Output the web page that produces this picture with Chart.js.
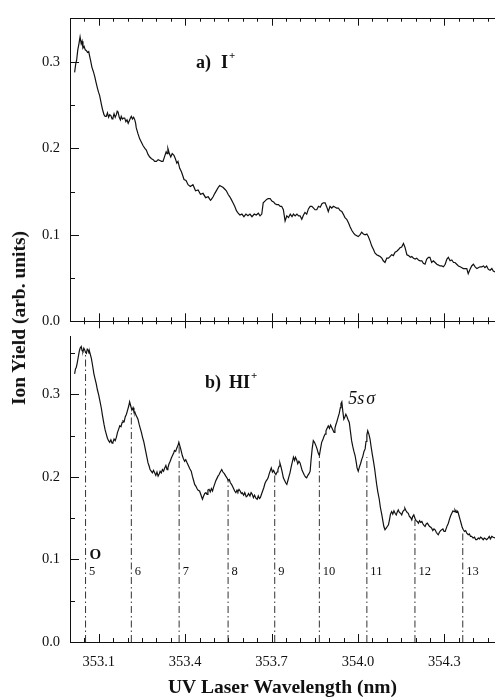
<!DOCTYPE html>
<html>
<head>
<meta charset="utf-8">
<script src="https://cdn.jsdelivr.net/npm/chart.js@4.4.1/dist/chart.umd.min.js"></script>
<style>
  html, body { margin: 0; padding: 0; background: #fff; }
  #wrap { position: relative; width: 495px; height: 700px; overflow: hidden; background: #fff; }
  #top-chart { position: absolute; left: 0; top: 0; }
  #bot-chart { position: absolute; left: 0; top: 318px; }
  #y-title {
    position: absolute; left: 19px; top: 318px;
    transform: translate(-50%, -50%) rotate(-90deg);
    white-space: nowrap; color: #111;
    font: bold 19.5px "Liberation Serif", "Times New Roman", serif;
  }
</style>
</head>
<body>
<div id="wrap">
  <canvas id="top-chart" width="495" height="340"></canvas>
  <canvas id="bot-chart" width="495" height="382"></canvas>
  <div id="y-title">Ion Yield (arb. units)</div>
</div>
<script>
// wavelength axis (nm)
const xMin = 353.0;
const xMax = 354.476;
const xTicks = [353.1, 353.4, 353.7, 354.0, 354.3];
const yTicks = [0, 0.1, 0.2, 0.3];

// a) I+ yield
const topWl = [
  353.016,353.020,353.023,353.027,353.031,353.035,353.039,353.042,353.045,353.049,
  353.053,353.057,353.061,353.065,353.068,353.072,353.076,353.081,353.086,353.090,
  353.095,353.099,353.103,353.106,353.109,353.113,353.118,353.122,353.126,353.130,
  353.134,353.138,353.142,353.146,353.149,353.153,353.157,353.161,353.164,353.167,
  353.171,353.175,353.178,353.182,353.186,353.190,353.194,353.198,353.202,353.206,
  353.210,353.213,353.217,353.221,353.225,353.228,353.230,353.236,353.242,353.248,
  353.254,353.260,353.265,353.271,353.277,353.283,353.289,353.294,353.300,353.306,
  353.312,353.318,353.323,353.329,353.334,353.337,353.340,353.345,353.350,353.355,
  353.361,353.366,353.371,353.375,353.381,353.387,353.392,353.396,353.403,353.410,
  353.418,353.427,353.436,353.445,353.453,353.462,353.471,353.480,353.488,353.491,
  353.497,353.503,353.510,353.515,353.520,353.526,353.531,353.537,353.543,353.549,
  353.555,353.560,353.566,353.572,353.578,353.584,353.590,353.597,353.604,353.611,
  353.618,353.625,353.632,353.640,353.647,353.654,353.660,353.666,353.671,353.677,
  353.683,353.688,353.695,353.701,353.707,353.712,353.718,353.724,353.730,353.735,
  353.741,353.747,353.753,353.759,353.765,353.771,353.776,353.782,353.788,353.794,
  353.799,353.805,353.811,353.816,353.822,353.828,353.834,353.840,353.846,353.851,
  353.857,353.863,353.869,353.875,353.880,353.886,353.892,353.897,353.903,353.909,
  353.915,353.921,353.926,353.932,353.938,353.944,353.949,353.955,353.961,353.967,
  353.973,353.979,353.985,353.990,353.996,354.001,354.007,354.013,354.019,354.025,
  354.031,354.036,354.042,354.048,354.054,354.059,354.065,354.071,354.077,354.083,
  354.088,354.094,354.100,354.106,354.112,354.117,354.123,354.129,354.135,354.141,
  354.146,354.152,354.158,354.163,354.170,354.176,354.182,354.187,354.193,354.199,
  354.204,354.210,354.216,354.222,354.227,354.233,354.239,354.245,354.250,354.256,
  354.262,354.268,354.274,354.280,354.285,354.291,354.297,354.303,354.309,354.314,
  354.320,354.326,354.332,354.337,354.343,354.349,354.355,354.361,354.366,354.372,
  354.378,354.383,354.389,354.395,354.401,354.407,354.413,354.418,354.424,354.430,
  354.436,354.441,354.447,354.453,354.459,354.465,354.470,354.476
];
const topYield = [
  0.288,0.298,0.302,0.314,0.321,0.329,0.321,0.324,0.316,0.318,
  0.314,0.313,0.311,0.312,0.307,0.301,0.294,0.289,0.283,0.277,
  0.270,0.265,0.261,0.256,0.251,0.245,0.239,0.237,0.237,0.241,
  0.236,0.239,0.238,0.234,0.235,0.240,0.236,0.239,0.243,0.242,
  0.236,0.233,0.237,0.234,0.235,0.235,0.231,0.233,0.229,0.232,
  0.235,0.237,0.234,0.236,0.233,0.229,0.224,0.217,0.211,0.207,
  0.203,0.200,0.198,0.193,0.190,0.188,0.187,0.185,0.185,0.187,
  0.186,0.185,0.185,0.191,0.196,0.194,0.200,0.194,0.190,0.194,
  0.192,0.188,0.183,0.185,0.177,0.173,0.168,0.164,0.163,0.158,
  0.156,0.158,0.151,0.152,0.147,0.148,0.143,0.144,0.140,0.141,
  0.144,0.148,0.152,0.155,0.157,0.156,0.155,0.153,0.151,0.147,
  0.144,0.141,0.137,0.133,0.128,0.125,0.123,0.124,0.121,0.124,
  0.122,0.124,0.121,0.124,0.123,0.125,0.122,0.124,0.137,0.139,
  0.141,0.142,0.142,0.139,0.138,0.136,0.135,0.135,0.133,0.133,
  0.129,0.116,0.122,0.120,0.124,0.121,0.124,0.122,0.124,0.122,
  0.122,0.118,0.123,0.126,0.124,0.130,0.133,0.133,0.131,0.129,
  0.129,0.133,0.132,0.136,0.137,0.137,0.132,0.127,0.133,0.131,
  0.133,0.132,0.131,0.131,0.128,0.127,0.124,0.120,0.118,0.114,
  0.109,0.105,0.102,0.100,0.099,0.098,0.100,0.103,0.101,0.100,
  0.101,0.098,0.093,0.087,0.083,0.079,0.077,0.076,0.075,0.073,
  0.070,0.068,0.073,0.073,0.075,0.077,0.076,0.080,0.081,0.083,
  0.085,0.086,0.090,0.086,0.077,0.076,0.074,0.075,0.073,0.072,
  0.073,0.071,0.070,0.070,0.067,0.066,0.072,0.074,0.074,0.068,
  0.070,0.068,0.066,0.065,0.064,0.064,0.063,0.066,0.072,0.074,
  0.070,0.071,0.068,0.068,0.066,0.064,0.063,0.062,0.061,0.061,
  0.061,0.055,0.060,0.064,0.066,0.063,0.061,0.062,0.063,0.063,
  0.064,0.062,0.064,0.060,0.059,0.061,0.058,0.057
];

// b) HI+ yield
const hiWl = [
  353.016,353.019,353.022,353.025,353.029,353.032,353.035,353.039,353.042,353.045,
  353.048,353.051,353.054,353.057,353.060,353.063,353.066,353.068,353.071,353.074,
  353.078,353.083,353.087,353.091,353.095,353.100,353.104,353.109,353.113,353.118,
  353.122,353.126,353.130,353.134,353.138,353.142,353.146,353.149,353.153,353.157,
  353.161,353.165,353.169,353.173,353.177,353.181,353.184,353.188,353.192,353.196,
  353.200,353.204,353.207,353.211,353.215,353.219,353.222,353.225,353.229,353.232,
  353.236,353.240,353.244,353.248,353.252,353.256,353.259,353.263,353.267,353.271,
  353.275,353.278,353.282,353.286,353.290,353.294,353.298,353.302,353.306,353.310,
  353.313,353.317,353.321,353.325,353.329,353.333,353.337,353.340,353.344,353.348,
  353.352,353.356,353.360,353.363,353.367,353.371,353.375,353.378,353.382,353.386,
  353.390,353.394,353.398,353.402,353.407,353.411,353.416,353.421,353.425,353.429,
  353.433,353.437,353.441,353.445,353.450,353.454,353.457,353.460,353.464,353.468,
  353.472,353.476,353.479,353.483,353.487,353.491,353.495,353.499,353.503,353.506,
  353.510,353.514,353.518,353.522,353.527,353.531,353.536,353.541,353.545,353.549,
  353.553,353.557,353.561,353.564,353.568,353.572,353.576,353.580,353.583,353.587,
  353.591,353.595,353.598,353.603,353.607,353.612,353.616,353.620,353.625,353.629,
  353.633,353.637,353.641,353.646,353.650,353.654,353.658,353.661,353.665,353.669,
  353.673,353.677,353.681,353.685,353.688,353.692,353.696,353.699,353.703,353.707,
  353.711,353.715,353.719,353.722,353.726,353.729,353.733,353.737,353.741,353.745,
  353.749,353.753,353.757,353.760,353.764,353.768,353.772,353.776,353.780,353.783,
  353.787,353.791,353.795,353.799,353.803,353.806,353.810,353.814,353.818,353.822,
  353.826,353.830,353.834,353.837,353.841,353.845,353.849,353.854,353.858,353.862,
  353.866,353.870,353.874,353.878,353.882,353.886,353.889,353.893,353.897,353.901,
  353.905,353.909,353.913,353.917,353.920,353.923,353.926,353.930,353.935,353.939,
  353.941,353.944,353.947,353.951,353.955,353.958,353.961,353.965,353.970,353.974,
  353.978,353.982,353.986,353.990,353.994,353.997,354.001,354.005,354.009,354.013,
  354.017,354.021,354.025,354.028,354.031,354.034,354.038,354.042,354.046,354.050,
  354.054,354.058,354.062,354.065,354.069,354.074,354.078,354.083,354.087,354.090,
  354.094,354.098,354.102,354.106,354.110,354.113,354.117,354.121,354.125,354.129,
  354.133,354.137,354.140,354.144,354.148,354.152,354.156,354.160,354.163,354.167,
  354.171,354.175,354.179,354.183,354.187,354.190,354.194,354.198,354.202,354.206,
  354.210,354.214,354.218,354.222,354.226,354.230,354.233,354.237,354.241,354.245,
  354.249,354.253,354.256,354.260,354.264,354.268,354.272,354.276,354.279,354.283,
  354.287,354.291,354.295,354.299,354.303,354.307,354.310,354.314,354.318,354.322,
  354.326,354.330,354.334,354.337,354.341,354.344,354.347,354.351,354.355,354.359,
  354.362,354.366,354.370,354.374,354.378,354.383,354.387,354.391,354.395,354.400,
  354.405,354.409,354.413,354.418,354.422,354.426,354.430,354.435,354.439,354.443,
  354.447,354.452,354.456,354.460,354.465,354.470,354.476
];
const hiYield = [
  0.325,0.331,0.333,0.338,0.346,0.352,0.356,0.358,0.353,0.352,
  0.356,0.354,0.351,0.350,0.355,0.354,0.350,0.352,0.348,0.344,
  0.336,0.325,0.319,0.313,0.306,0.299,0.292,0.283,0.274,0.264,
  0.257,0.252,0.247,0.244,0.242,0.245,0.241,0.242,0.246,0.244,
  0.248,0.254,0.258,0.262,0.261,0.266,0.268,0.267,0.273,0.276,
  0.281,0.286,0.291,0.286,0.281,0.284,0.279,0.279,0.275,0.273,
  0.270,0.264,0.259,0.254,0.248,0.243,0.238,0.231,0.224,0.217,
  0.213,0.209,0.207,0.205,0.208,0.205,0.202,0.206,0.201,0.204,
  0.207,0.205,0.209,0.207,0.211,0.214,0.209,0.211,0.216,0.219,
  0.223,0.226,0.229,0.232,0.231,0.235,0.238,0.242,0.237,0.232,
  0.226,0.222,0.219,0.221,0.217,0.214,0.210,0.207,0.201,0.196,
  0.191,0.189,0.186,0.184,0.183,0.179,0.176,0.173,0.177,0.180,
  0.181,0.179,0.184,0.185,0.182,0.186,0.183,0.188,0.192,0.195,
  0.198,0.201,0.203,0.206,0.209,0.206,0.204,0.201,0.199,0.196,
  0.197,0.193,0.191,0.189,0.186,0.183,0.181,0.184,0.182,0.185,
  0.183,0.180,0.181,0.178,0.181,0.176,0.177,0.180,0.177,0.181,
  0.179,0.175,0.178,0.174,0.173,0.177,0.174,0.175,0.179,0.183,
  0.187,0.192,0.195,0.197,0.199,0.204,0.208,0.211,0.206,0.208,
  0.205,0.203,0.206,0.209,0.213,0.217,0.212,0.206,0.199,0.196,
  0.193,0.191,0.196,0.200,0.205,0.212,0.218,0.224,0.220,0.224,
  0.221,0.216,0.219,0.217,0.212,0.208,0.205,0.202,0.200,0.199,
  0.202,0.204,0.207,0.220,0.234,0.244,0.242,0.238,0.234,0.229,
  0.226,0.234,0.242,0.245,0.249,0.252,0.256,0.259,0.262,0.259,
  0.263,0.260,0.257,0.254,0.259,0.263,0.266,0.271,0.277,0.284,
  0.289,0.291,0.281,0.270,0.273,0.276,0.274,0.270,0.266,0.255,
  0.244,0.237,0.231,0.226,0.218,0.211,0.207,0.212,0.216,0.221,
  0.225,0.231,0.234,0.243,0.251,0.256,0.252,0.246,0.236,0.227,
  0.219,0.210,0.199,0.191,0.182,0.173,0.163,0.154,0.146,0.140,
  0.136,0.138,0.140,0.142,0.149,0.155,0.158,0.155,0.159,0.156,
  0.154,0.158,0.160,0.157,0.156,0.154,0.158,0.160,0.162,0.159,
  0.157,0.156,0.152,0.151,0.148,0.152,0.154,0.150,0.147,0.146,
  0.144,0.147,0.145,0.146,0.143,0.141,0.140,0.143,0.144,0.142,
  0.140,0.139,0.138,0.135,0.137,0.136,0.133,0.131,0.130,0.133,
  0.135,0.136,0.137,0.134,0.134,0.138,0.141,0.144,0.149,0.153,
  0.156,0.159,0.158,0.160,0.157,0.159,0.158,0.153,0.148,0.143,
  0.139,0.136,0.134,0.135,0.132,0.130,0.131,0.128,0.128,0.126,
  0.127,0.124,0.124,0.126,0.125,0.127,0.126,0.124,0.126,0.125,
  0.124,0.126,0.128,0.125,0.128,0.127,0.126
];

// vibrational progression markers in panel b
const progWl = [353.054, 353.213, 353.379, 353.549, 353.711, 353.866, 354.031, 354.198, 354.364];
const progTop = [0.348, 0.280, 0.240, 0.196, 0.202, 0.226, 0.224, 0.148, 0.132];
const progLabel = ['5', '6', '7', '8', '9', '10', '11', '12', '13'];

const ink = '#111';
const serif = '"Liberation Serif", "Times New Roman", serif';
const bold18 = 'bold 18px ' + serif;
const boldSup = 'bold 11px ' + serif;

function pairs(xs, ys) { return xs.map((x, i) => ({ x, y: ys[i] })); }

// inward minor/major ticks, drawn at the library's own scale positions
function axisMarks(edges) {
    return {
        id: 'axisMarks',
        afterDatasetsDraw(chart) {
            const { ctx, chartArea: a, scales: { x, y } } = chart;
            ctx.save();
            ctx.strokeStyle = ink;
            ctx.lineWidth = 1;
            ctx.beginPath();
            for (let k = 1; k < 30; k++) {
                const px = Math.round(x.getPixelForValue(353 + k * 0.05)) + 0.5;
                if (px > a.right) break;
                const major = (k - 2) % 6 === 0;
                const len = major ? 8 : 4;
                if (edges.top) { ctx.moveTo(px, a.top); ctx.lineTo(px, a.top + len - 1); }
                if (edges.bottom === 'cross') { ctx.moveTo(px, a.bottom - len); ctx.lineTo(px, a.bottom + len - 1); }
                if (edges.bottom === 'in') { ctx.moveTo(px, a.bottom); ctx.lineTo(px, a.bottom - len); }
            }
            for (let j = 1; j * 0.05 < y.max - 0.01; j++) {
                const py = Math.round(y.getPixelForValue(j * 0.05)) + 0.5;
                const len = j % 2 === 0 ? 9 : 5;
                ctx.moveTo(a.left, py); ctx.lineTo(a.left + len, py);
            }
            ctx.stroke();
            ctx.restore();
        }
    };
}

// text placed at data coordinates (dx is a pixel nudge)
function panelText(items) {
    return {
        id: 'panelText',
        afterDatasetsDraw(chart) {
            const { ctx, scales: { x, y } } = chart;
            ctx.save();
            ctx.fillStyle = ink;
            items.forEach(it => {
                let cx = x.getPixelForValue(it.x) + (it.dx || 0);
                const cy = y.getPixelForValue(it.y);
                ctx.textBaseline = it.baseline || 'alphabetic';
                it.parts.forEach(p => {
                    ctx.font = p.font;
                    cx += p.gap || 0;
                    ctx.fillText(p.t, cx, cy + (p.dy || 0));
                    cx += ctx.measureText(p.t).width;
                });
            });
            ctx.restore();
        }
    };
}

function baseScales(yMax, xHeight) {
    const hidden = { display: false };
    const noGrid = { drawOnChartArea: false, drawTicks: false };
    return {
        x: {
            type: 'linear', min: xMin, max: xMax,
            ticks: hidden, grid: noGrid,
            border: { color: ink, width: 1 },
            afterFit: s => { s.height = xHeight; }
        },
        y: {
            min: 0, max: yMax,
            afterBuildTicks: s => { s.ticks = yTicks.map(value => ({ value })); },
            ticks: { color: ink, padding: 10, font: { family: serif, size: 14.5 }, callback: v => v.toFixed(1) },
            grid: noGrid,
            border: { color: ink, width: 1 },
            afterFit: s => { s.width = 70; }
        }
    };
}

const commonOpts = {
    responsive: false,
    animation: false,
    events: [],
    plugins: { legend: { display: false }, tooltip: { enabled: false } }
};

// panel a
const topScales = baseScales(0.35, 12);
topScales.xTop = {
    type: 'linear', position: 'top', min: xMin, max: xMax,
    ticks: { display: false }, grid: { drawOnChartArea: false, drawTicks: false },
    border: { color: ink, width: 1 },
    afterFit: s => { s.height = 13; }
};
new Chart(document.getElementById('top-chart'), {
    type: 'line',
    data: {
        datasets: [{
            data: pairs(topWl, topYield),
            borderColor: ink, borderWidth: 1.2, pointRadius: 0, tension: 0
        }]
    },
    options: { ...commonOpts, layout: { padding: 0 }, scales: topScales },
    plugins: [
        axisMarks({ top: true, bottom: 'cross' }),
        panelText([{
            x: 353.438, y: 0.2934,
            parts: [{ t: 'a)', font: bold18 }, { t: 'I', font: bold18, gap: 10 }, { t: '+', font: boldSup, dy: -9, gap: 1 }]
        }])
    ]
});

// panel b
const botScales = baseScales(0.37, 58);
Object.assign(botScales.x, {
    afterBuildTicks: s => { s.ticks = xTicks.map(value => ({ value })); },
    ticks: { color: ink, padding: 11, font: { family: serif, size: 14.5 }, callback: v => v.toFixed(1), maxRotation: 0 },
    title: {
        display: true, text: 'UV Laser Wavelength (nm)', color: ink,
        font: { family: serif, size: 19.5, weight: 'bold' }, padding: { top: 0, bottom: 0 }
    }
});

const progSets = progWl.map((wl, i) => ({
    data: [{ x: wl, y: 0 }, { x: wl, y: progTop[i] }],
    borderColor: '#333', borderWidth: 1, borderDash: [7, 3, 1.5, 3], pointRadius: 0
}));

const botText = [
    { x: 353.469, y: 0.308, parts: [{ t: 'b)', font: bold18 }, { t: 'HI', font: bold18, gap: 8 }, { t: '+', font: boldSup, dy: -9, gap: 1 }] },
    { x: 353.966, y: 0.289, parts: [{ t: '5s', font: 'italic 18px ' + serif }, { t: 'σ', font: 'italic 18px ' + serif, gap: 2 }] },
    { x: progWl[0], dx: 4, y: 0.105, baseline: 'middle', parts: [{ t: 'O', font: 'bold 15px ' + serif }] }
].concat(progWl.map((wl, i) => ({
    x: wl, dx: 3.5, y: 0.085, baseline: 'middle',
    parts: [{ t: progLabel[i], font: '12.5px ' + serif }]
})));

new Chart(document.getElementById('bot-chart'), {
    type: 'line',
    data: {
        datasets: [{
            data: pairs(hiWl, hiYield),
            borderColor: ink, borderWidth: 1.2, pointRadius: 0, tension: 0
        }].concat(progSets)
    },
    options: { ...commonOpts, layout: { padding: { top: 10 } }, scales: botScales },
    plugins: [axisMarks({ bottom: 'in' }), panelText(botText)]
});
</script>
</body>
</html>
